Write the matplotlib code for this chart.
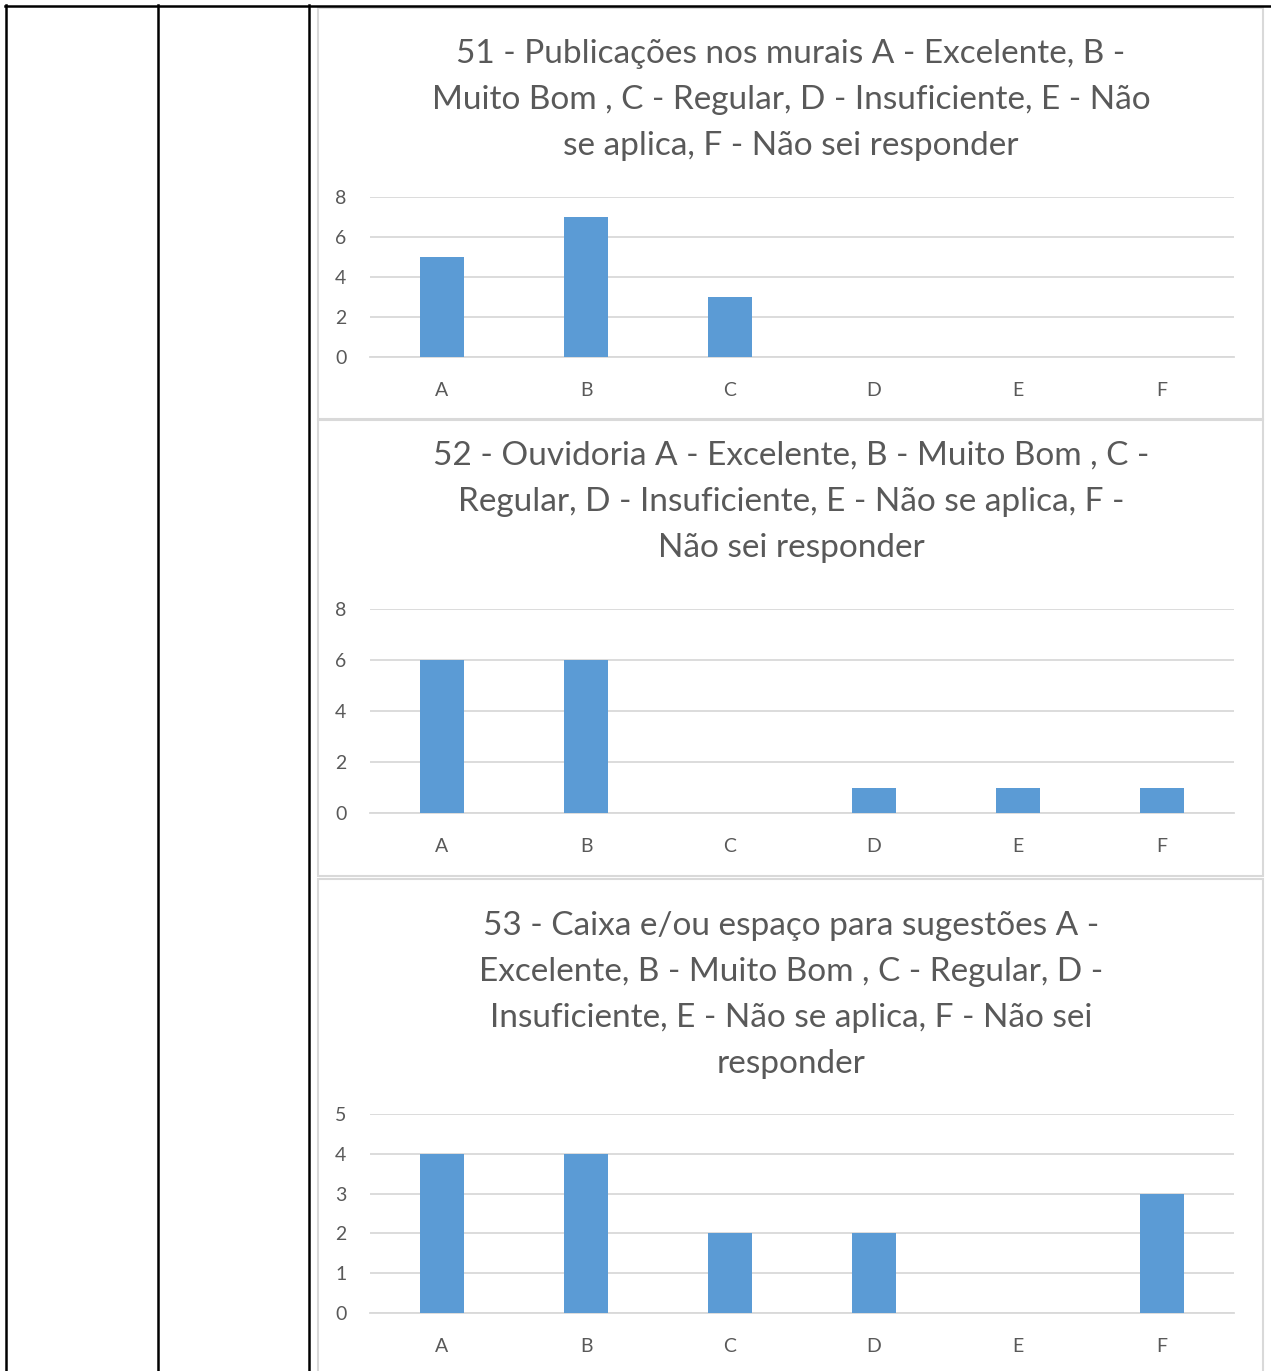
import matplotlib.pyplot as plt
from matplotlib.lines import Line2D
from matplotlib.patches import Rectangle

W, H = 1271, 1371
categories = ["A", "B", "C", "D", "E", "F"]

q51_values = [5, 7, 3, 0, 0, 0]
q52_values = [6, 6, 0, 1, 1, 1]
q53_values = [4, 4, 2, 2, 0, 3]

q51_title = ["51 - Publicações nos murais A - Excelente, B -",
             "Muito Bom , C - Regular, D - Insuficiente, E - Não",
             "se aplica, F - Não sei responder"]
q52_title = ["52 - Ouvidoria A - Excelente, B - Muito Bom , C -",
             "Regular, D - Insuficiente, E - Não se aplica, F -",
             "Não sei responder"]
q53_title = ["53 - Caixa e/ou espaço para sugestões A -",
             "Excelente, B - Muito Bom , C - Regular, D -",
             "Insuficiente, E - Não se aplica, F - Não sei",
             "responder"]

q51_ticks = [0, 2, 4, 6, 8]
q52_ticks = [0, 2, 4, 6, 8]
q53_ticks = [0, 1, 2, 3, 4, 5]

BAR = "#5B9BD5"
TXT = "#595959"
GRID = "#D9D9D9"
FONT = "Lato"

plt.rcParams["font.family"] = [FONT, "DejaVu Sans"]

fig = plt.figure(figsize=(W / 100, H / 100), dpi=100)


def fx(x):
    return x / W


def fy(y):
    return 1 - y / H


# table borders
for x in (6, 158, 309):
    fig.add_artist(Line2D([fx(x), fx(x)], [fy(5), fy(H + 5)], color="black", lw=1.8))
fig.add_artist(Line2D([fx(5), fx(W + 5)], [fy(6), fy(6)], color="black", lw=1.8))

# chart panels: (top, bottom, title lines, title ys, plot top, plot bottom, values, ticks)
panels = [
    (8, 419, q51_title, [54, 100, 146], 197, 357, q51_values, q51_ticks),
    (420, 876, q52_title, [456, 502, 548], 609, 813, q52_values, q52_ticks),
    (879, 1380, q53_title, [926, 972, 1018, 1064], 1114, 1313, q53_values, q53_ticks),
]

for top, bot, title, ty, ptop, pbot, vals, ticks in panels:
    fig.add_artist(Rectangle((fx(318), fy(bot)), fx(1263) - fx(318), fy(top) - fy(bot),
                             fill=False, edgecolor=GRID, lw=1.5))
    for line, y in zip(title, ty):
        fig.text(fx(791), fy(y), line, ha="center", va="center", color=TXT, fontsize=24)

    ax = fig.add_axes([fx(370), fy(pbot), fx(1234) - fx(370), fy(ptop) - fy(pbot)])
    ax.bar(range(len(categories)), vals, width=0.31, color=BAR, zorder=3)
    ax.set_xlim(-0.5, len(categories) - 0.5)
    ax.set_ylim(ticks[0], ticks[-1])
    ax.set_yticks(ticks)
    ax.set_xticks(range(len(categories)))
    ax.set_xticklabels(categories)
    ax.grid(axis="y", color=GRID, lw=1.3, zorder=0)
    for s in ("top", "right", "left"):
        ax.spines[s].set_visible(False)
    ax.spines["bottom"].set_color(GRID)
    ax.spines["bottom"].set_linewidth(1.3)
    ax.tick_params(length=0, colors=TXT, labelsize=14)
    ax.tick_params(axis="x", pad=18)
    ax.tick_params(axis="y", pad=17)
    ax.set_facecolor("none")

fig.savefig("out.png", dpi=100)
